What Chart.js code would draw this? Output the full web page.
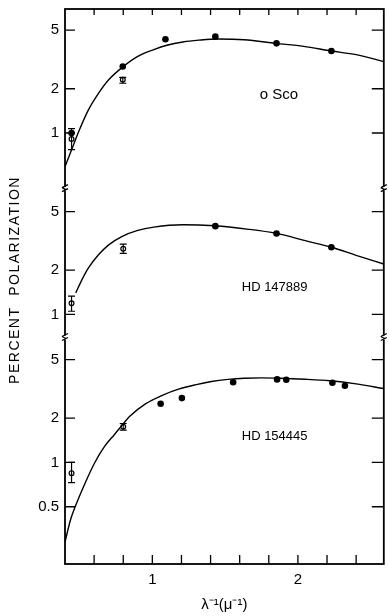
<!DOCTYPE html>
<html>
<head>
<meta charset="utf-8">
<script src="https://cdn.jsdelivr.net/npm/chart.js@4"></script>
<style>
  html, body { margin: 0; padding: 0; background: #fff; overflow: hidden; }
  canvas { display: block; }
</style>
</head>
<body>
<canvas id="polChart" width="389" height="616"></canvas>
<script>
// x tick marks (inverse wavelength, 1/micron) and which ones get a label
var xTickMarks = [0.6, 0.8, 1.0, 1.2, 1.4, 1.6, 1.8, 2.0, 2.2, 2.4];
var xTickLabels = [1, 2];

// o Sco
var scoCurveX = [0.40, 0.47, 0.49, 0.56, 0.63, 0.70, 0.80, 0.90, 1.01, 1.10, 1.21, 1.32, 1.45, 1.63, 1.85, 2.04, 2.23, 2.40, 2.59];
var scoCurveY = [0.59, 0.89, 1.00, 1.43, 1.86, 2.30, 2.83, 3.32, 3.69, 3.95, 4.16, 4.28, 4.36, 4.31, 4.07, 3.88, 3.61, 3.41, 3.06];
var scoFilledX = [0.445, 0.797, 1.09, 1.433, 1.853, 2.23];
var scoFilledY = [1.00, 2.83, 4.34, 4.52, 4.07, 3.61];
var scoOpenX = [0.445, 0.797];
var scoOpenY = [0.91, 2.30];
var scoOpenLow = [0.77, 2.18];
var scoOpenHigh = [1.07, 2.39];

// HD 147889
var hd147CurveX = [0.474, 0.515, 0.56, 0.63, 0.70, 0.79, 0.90, 1.01, 1.21, 1.43, 1.65, 1.853, 2.05, 2.23, 2.40, 2.59];
var hd147CurveY = [1.40, 1.71, 2.06, 2.54, 2.97, 3.38, 3.72, 3.92, 4.07, 4.00, 3.80, 3.55, 3.17, 2.86, 2.52, 2.20];
var hd147FilledX = [1.433, 1.853, 2.23];
var hd147FilledY = [3.98, 3.55, 2.86];
var hd147OpenX = [0.445, 0.80];
var hd147OpenY = [1.19, 2.79];
var hd147OpenLow = [1.05, 2.60];
var hd147OpenHigh = [1.33, 3.00];

// HD 154445
var hd154CurveX = [0.40, 0.437, 0.47, 0.537, 0.605, 0.673, 0.74, 0.80, 0.843, 0.955, 1.068, 1.18, 1.294, 1.406, 1.52, 1.632, 1.75, 1.88, 2.05, 2.22, 2.40, 2.59];
var hd154CurveY = [0.288, 0.405, 0.50, 0.72, 1.00, 1.29, 1.55, 1.83, 2.05, 2.51, 2.86, 3.15, 3.37, 3.55, 3.67, 3.74, 3.76, 3.74, 3.68, 3.59, 3.42, 3.18];
var hd154FilledX = [1.057, 1.203, 1.555, 1.857, 1.92, 2.237, 2.323];
var hd154FilledY = [2.51, 2.74, 3.51, 3.67, 3.65, 3.48, 3.32];
var hd154OpenX = [0.445, 0.80];
var hd154OpenY = [0.846, 1.75];
var hd154OpenLow = [0.73, 1.66];
var hd154OpenHigh = [1.00, 1.84];

// y axis ticks per panel
var yTicksTop = [1, 2, 5];
var yTicksMid = [1, 2, 5];
var yTicksBot = [0.5, 1, 2, 5];

var FONT = "'Liberation Sans', Arial, sans-serif";

function pts(xs, ys) {
    return xs.map(function (x, i) { return { x: x, y: ys[i] }; });
}

function yScale(min, max, weight, ticks) {
    return {
        type: 'logarithmic',
        position: 'left',
        stack: 'panels',
        stackWeight: weight,
        min: min,
        max: max,
        grid: { display: false, drawTicks: false },
        border: { display: false },
        afterBuildTicks: function (s) { s.ticks = ticks.map(function (v) { return { value: v }; }); },
        afterFit: function (s) { s.width = 65; s.paddingTop = 0; s.paddingBottom = 0; },
        ticks: {
            autoSkip: false,
            padding: 6,
            color: '#000',
            font: { family: FONT, size: 15 },
            callback: function (v) { return String(v); }
        }
    };
}

function panelSets(axis, cx, cy, fx, fy, ox, oy) {
    return [{
        data: pts(cx, cy), yAxisID: axis, showLine: true, borderColor: '#000', borderWidth: 1.4,
        pointRadius: 0, cubicInterpolationMode: 'monotone', fill: false
    }, {
        data: pts(fx, fy), yAxisID: axis, pointRadius: 3.3, backgroundColor: '#000', borderColor: '#000', borderWidth: 0
    }, {
        data: pts(ox, oy), yAxisID: axis, pointRadius: 2.4, backgroundColor: '#fff', borderColor: '#000', borderWidth: 1.2
    }];
}

var panels = [
    { axis: 'y1', ox: scoOpenX, lo: scoOpenLow, hi: scoOpenHigh, label: 'o Sco', lx: 1.87, ly: 1.81, size: 15 },
    { axis: 'y2', ox: hd147OpenX, lo: hd147OpenLow, hi: hd147OpenHigh, label: 'HD 147889', lx: 1.84, ly: 1.53, size: 13 },
    { axis: 'y3', ox: hd154OpenX, lo: hd154OpenLow, hi: hd154OpenHigh, label: 'HD 154445', lx: 1.84, ly: 1.50, size: 13 }
];

var decorPlugin = {
    id: 'decor',
    afterDatasetsDraw: function (chart) {
        var ctx = chart.ctx, xs = chart.scales.x;
        ctx.save();
        ctx.strokeStyle = '#000';
        ctx.lineWidth = 1.2;
        panels.forEach(function (p) {
            var ys = chart.scales[p.axis];
            p.ox.forEach(function (x, i) {
                var px = xs.getPixelForValue(x);
                var y1 = ys.getPixelForValue(p.lo[i]), y2 = ys.getPixelForValue(p.hi[i]);
                ctx.beginPath();
                ctx.moveTo(px, y1); ctx.lineTo(px, y2);
                ctx.moveTo(px - 3.5, y1); ctx.lineTo(px + 3.5, y1);
                ctx.moveTo(px - 3.5, y2); ctx.lineTo(px + 3.5, y2);
                ctx.stroke();
            });
        });
        ctx.restore();
    },
    afterDraw: function (chart) {
        var ctx = chart.ctx, a = chart.chartArea, xs = chart.scales.x;
        ctx.save();
        ctx.strokeStyle = '#000';
        ctx.fillStyle = '#000';

        // frame
        ctx.lineWidth = 1.8;
        ctx.strokeRect(a.left, a.top, a.right - a.left, a.bottom - a.top);

        // x tick marks, top and bottom, pointing inward
        ctx.lineWidth = 1.3;
        ctx.beginPath();
        xs.ticks.forEach(function (t) {
            var px = xs.getPixelForValue(t.value);
            ctx.moveTo(px, a.top); ctx.lineTo(px, a.top + 6);
            ctx.moveTo(px, a.bottom); ctx.lineTo(px, a.bottom - 9);
        });
        ctx.stroke();

        // y tick marks, left and right, pointing inward
        ctx.beginPath();
        panels.forEach(function (p) {
            var ys = chart.scales[p.axis];
            ys.ticks.forEach(function (t) {
                var py = ys.getPixelForValue(t.value);
                ctx.moveTo(a.left, py); ctx.lineTo(a.left + 10, py);
                ctx.moveTo(a.right, py); ctx.lineTo(a.right - 12, py);
            });
        });
        ctx.stroke();

        // axis breaks between panels
        ['y1', 'y2'].forEach(function (id) {
            var by = chart.scales[id].bottom;
            [a.left, a.right].forEach(function (bx) {
                ctx.fillStyle = '#fff';
                ctx.fillRect(bx - 2, by - 2, 4, 4);
                ctx.lineWidth = 1.3;
                ctx.beginPath();
                ctx.moveTo(bx - 3, by - 1); ctx.lineTo(bx + 3, by - 4);
                ctx.moveTo(bx - 3, by + 3); ctx.lineTo(bx + 3, by);
                ctx.moveTo(bx - 3, by - 1); ctx.lineTo(bx + 1, by + 1);
                ctx.stroke();
            });
        });

        // star labels
        ctx.fillStyle = '#000';
        ctx.textAlign = 'center';
        ctx.textBaseline = 'middle';
        panels.forEach(function (p) {
            var ys = chart.scales[p.axis];
            ctx.font = p.size + 'px ' + FONT;
            ctx.fillText(p.label, xs.getPixelForValue(p.lx), ys.getPixelForValue(p.ly));
        });

        // y axis title spanning all panels
        ctx.translate(15, 280);
        ctx.rotate(-Math.PI / 2);
        ctx.font = '14px ' + FONT;
        ctx.letterSpacing = '1.5px';
        ctx.fillText('PERCENT  POLARIZATION', 0, 0);
        ctx.restore();
    }
};

var datasets = []
    .concat(panelSets('y1', scoCurveX, scoCurveY, scoFilledX, scoFilledY, scoOpenX, scoOpenY))
    .concat(panelSets('y2', hd147CurveX, hd147CurveY, hd147FilledX, hd147FilledY, hd147OpenX, hd147OpenY))
    .concat(panelSets('y3', hd154CurveX, hd154CurveY, hd154FilledX, hd154FilledY, hd154OpenX, hd154OpenY));

var ctx = document.getElementById('polChart').getContext('2d');
var polChart = new Chart(ctx, {
    type: 'scatter',
    data: { datasets: datasets },
    options: {
        responsive: false,
        animation: false,
        devicePixelRatio: 1,
        layout: { padding: { top: 9, right: 1, left: 0, bottom: 0 } },
        plugins: { legend: { display: false }, tooltip: { enabled: false } },
        scales: {
            x: {
                type: 'linear',
                min: 0.4,
                max: 2.59,
                grid: { display: false, drawTicks: false },
                border: { display: false },
                afterBuildTicks: function (s) { s.ticks = xTickMarks.map(function (v) { return { value: v }; }); },
                afterFit: function (s) { s.height = 52; },
                ticks: {
                    autoSkip: false,
                    maxRotation: 0,
                    padding: 7,
                    color: '#000',
                    font: { family: FONT, size: 15 },
                    callback: function (v) { return xTickLabels.indexOf(v) >= 0 ? String(v) : ''; }
                },
                title: {
                    display: true,
                    text: 'λ⁻¹(μ⁻¹)',
                    color: '#000',
                    font: { family: FONT, size: 15 },
                    padding: { top: 2, bottom: 2 }
                }
            },
            // stacked scales are laid out bottom-up, so the lowest panel comes first
            y3: yScale(0.204, 7.07, 1.540, yTicksBot),
            y2: yScale(0.696, 7.15, 1.012, yTicksMid),
            y1: yScale(0.418, 6.97, 1.222, yTicksTop)
        }
    },
    plugins: [decorPlugin]
});
</script>
</body>
</html>
